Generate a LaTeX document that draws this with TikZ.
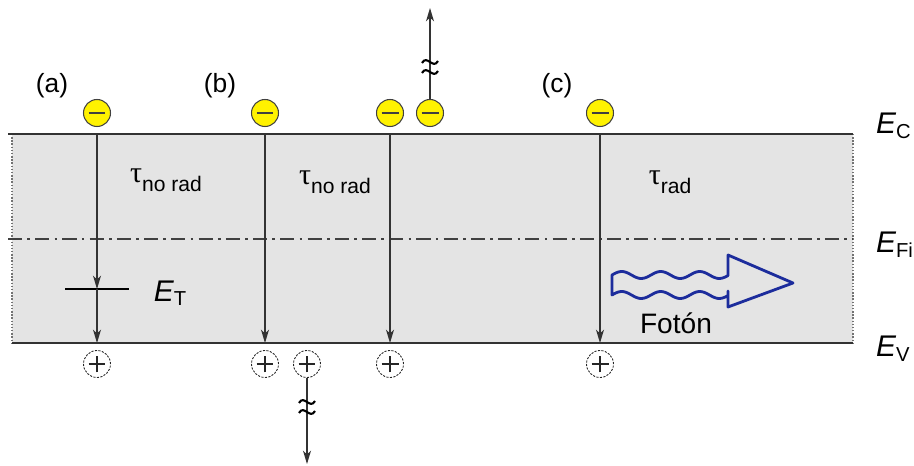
\documentclass[tikz,border=0pt]{standalone}
\usepackage{fontspec}
\setmainfont{Liberation Sans}
\newfontfamily\taufont{Liberation Serif}
\usetikzlibrary{arrows.meta,positioning,calc}

\definecolor{bandgray}{HTML}{E4E4E4}
\definecolor{photonblue}{HTML}{1C2C9C}

% level label: italic E with a lowered subscript
\newcommand{\lvl}[1]{{\fontsize{17}{19}\selectfont\itshape E}\raisebox{-2.5pt}{\fontsize{11.5}{12}\selectfont #1}}
\newcommand{\tauof}[1]{{\fontsize{17}{19}\selectfont\taufont τ}\raisebox{-5pt}{\fontsize{12}{13}\selectfont #1}}
% break mark on a long arrow
\newcommand{\brk}[2]{\draw[line width=1.2pt] (#1-8,#2+1) .. controls (#1-3,#2-8) and (#1+3,#2+8) .. (#1+8,#2-1);}

\begin{document}
\begin{tikzpicture}[x=0.02cm, y=-0.02cm,
        every node/.style={font=\fontsize{15}{17}\selectfont},
        elec/.style={circle, draw=black!75, fill=yellow, line width=0.6pt,
            minimum size=0.54cm, inner sep=0pt,
            path picture={\draw[line width=1.7pt]
                ([xshift=-0.17cm]path picture bounding box.center) --
                ([xshift=0.17cm]path picture bounding box.center);}},
        hole/.style={circle, draw=black!85, dash pattern=on 1.2pt off 0.8pt, line width=0.5pt,
            minimum size=0.54cm, inner sep=0pt,
            path picture={\draw[solid, line width=1.3pt]
                ([xshift=-0.17cm]path picture bounding box.center) --
                ([xshift=0.17cm]path picture bounding box.center)
                ([yshift=-0.17cm]path picture bounding box.center) --
                ([yshift=0.17cm]path picture bounding box.center);}},
        edge/.style={draw=black!80, line width=0.9pt},
        side/.style={draw=black!55, densely dotted, line width=0.8pt},
        arr/.style={draw=black!80, line width=0.7pt, -{Stealth[length=7.5pt,width=4.5pt,inset=2pt]}}
    ]
    \useasboundingbox (0,0) rectangle (914,466);

    % band
    \fill[bandgray] (12,134) rectangle (853,343);
    \coordinate (ec) at (8,134);
    \coordinate (ecr) at (853,134);
    \coordinate (ev) at (12,343);
    \coordinate (evr) at (853,343);
    \coordinate (fi) at (8,239);
    \coordinate (fir) at (853,239);
    \draw[side] (12,134) -- (12,343);
    \draw[side] (853,134) -- (853,343);
    \draw[edge] (ec) -- (ecr);
    \draw[edge] (ev) -- (evr);
    \draw[draw=black!75, line width=0.7pt, dash pattern=on 8pt off 3pt on 1.5pt off 3pt] (fi) -- (fir);

    % levels
    \node[anchor=base west] (lc) at (870,134) {\lvl{C}};
    \node[anchor=base west] (lf) at (870,253) {\lvl{Fi}};
    \node[anchor=base west] (lv) at (870,357) {\lvl{V}};

    % cases
    \node (la) at (52,86) {(a)};
    \node (lb) at (220,86) {(b)};
    \node (lcc) at (557,86) {(c)};

    % electrons
    \node[elec] (ea) at (97,113) {};
    \node[elec] (eb) at (265,113) {};
    \node[elec] (eb2) at (390,113) {};
    \node[elec] (eb3) at (430,113) {};
    \node[elec] (ecc) at (600,113) {};

    % holes
    \node[hole] (ha) at (97,364) {};
    \node[hole] (hb) at (265,364) {};
    \node[hole] (hb2) at (307,364) {};
    \node[hole] (hb3) at (390,364) {};
    \node[hole] (hc) at (600,364) {};

    % trap level
    \coordinate (tl) at (65,289);
    \coordinate (tr) at (129,289);
    \draw[line width=1.3pt] (tl) -- (tr);
    \node (lt) at (170,293) {\lvl{T}};

    % transitions
    \draw[arr] (ea |- ec) -- (ea |- tl);
    \draw[arr] (ea |- tl) -- (ha |- ev);
    \draw[arr] (eb |- ec) -- (hb |- ev);
    \draw[arr] (eb2 |- ec) -- (hb3 |- ev);
    \draw[arr] (ecc |- ec) -- (hc |- ev);

    % carriers leaving
    \coordinate (outu) at (430,8);
    \coordinate (outd) at (307,464);
    \draw[arr] (eb3.north) -- (outu);
    \draw[arr] (hb2.south) -- (outd);
    \brk{430}{62}
    \brk{430}{72}
    \brk{307}{402}
    \brk{307}{412}

    \node (tna) at (166,180) {\tauof{no rad}};
    \node (tnb) at (335,182) {\tauof{no rad}};
    \node (trad) at (670,182) {\tauof{rad}};

    % photon
    \draw[photonblue, line width=1.6pt, line join=round]
        plot[domain=0:116, samples=60, smooth] ({612+\x}, {275-3.5*sin(\x/39*360)})
        -- (728,269) -- (728,255) -- (793,283) -- (728,307) -- (728,291)
        -- plot[domain=116:0, samples=60, smooth] ({612+\x}, {295-3.5*sin(\x/39*360)})
        -- cycle;
    \node (lph) at (676,323) {\fontsize{16}{18}\selectfont Fotón};
\end{tikzpicture}
\end{document}
